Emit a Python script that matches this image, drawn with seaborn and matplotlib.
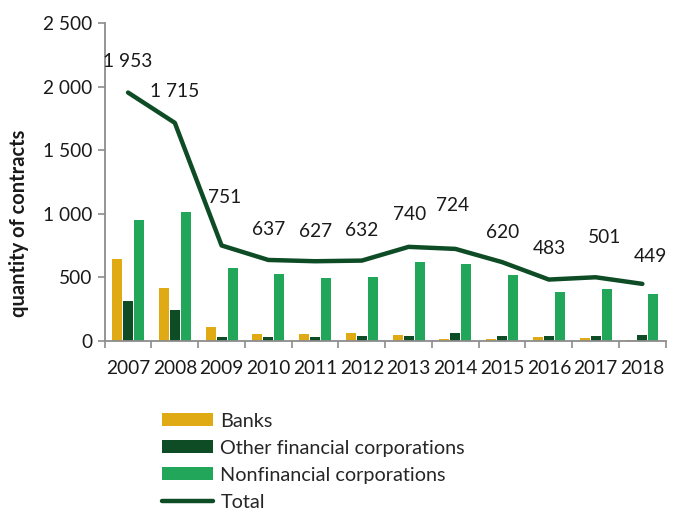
import matplotlib
matplotlib.use("Agg")
import matplotlib.pyplot as plt
from matplotlib.patches import Patch
from matplotlib.lines import Line2D
from matplotlib.ticker import FuncFormatter, MultipleLocator, FixedLocator
import numpy as np
import pandas as pd
import seaborn as sns

years = ["2007", "2008", "2009", "2010", "2011", "2012",
         "2013", "2014", "2015", "2016", "2017", "2018"]
banks = [645, 414, 110, 53, 55, 60, 47, 13, 16, 29, 24, 10]
other_financial = [312, 241, 29, 29, 29, 42, 37, 63, 42, 39, 37, 45]
nonfinancial = [951, 1014, 572, 529, 498, 500, 621, 605, 521, 383, 406, 370]
total = [1953, 1715, 751, 637, 627, 632, 740, 724, 620, 483, 501, 449]

series_names = ["Banks", "Other financial corporations", "Nonfinancial corporations"]
series_colors = ["#DFAA14", "#0E4C26", "#21A65A"]
line_color = "#0E4C26"

# label offsets (dx, dy) in pixels relative to each point of the total line
label_offsets = [(0, 31), (0, 31), (3, 48), (0, 30), (0, 30), (0, 30),
                 (1, 32), (-3, 43), (1, 30), (1, 31), (9, 40), (8, 27)]

sns.set_theme(style="white")
plt.rcParams["font.family"] = ["Lato", "DejaVu Sans"]

df = pd.DataFrame({
    "year": years * 3,
    "series": sum([[s] * len(years) for s in series_names], []),
    "value": banks + other_financial + nonfinancial,
})

fig = plt.figure(figsize=(6.78, 5.14), dpi=100)
ax = fig.add_axes([0.1544, 0.3366, 0.8275, 0.6187])

sns.barplot(data=df, x="year", y="value", hue="series", order=years,
            hue_order=series_names, palette=series_colors, width=0.707,
            gap=0.09, saturation=1, ax=ax, legend=False, linewidth=0)

pos = np.arange(len(years))
sns.lineplot(x=pos, y=total, color=line_color, linewidth=3.2, ax=ax,
             legend=False, solid_joinstyle="round", solid_capstyle="round")

def spaced(v, _=None):
    return f"{int(v):,}".replace(",", " ")

for x, v, (dx, dy) in zip(pos, total, label_offsets):
    ax.annotate(spaced(v), (x, v), xytext=(dx * 0.72, dy * 0.72),
                textcoords="offset points", ha="center", va="center",
                fontsize=13.8, color="#1a1a1a")

ax.set_xlim(-0.5, len(years) - 0.5)
ax.set_ylim(0, 2500)
ax.yaxis.set_major_locator(MultipleLocator(500))
ax.yaxis.set_major_formatter(FuncFormatter(spaced))

ax.set_xticks(pos)
ax.set_xticklabels(years)
ax.xaxis.set_minor_locator(FixedLocator(np.arange(-0.5, len(years), 1.0)))
ax.tick_params(axis="x", which="major", length=0, pad=14, labelsize=13.8,
               labelcolor="#1a1a1a")
ax.tick_params(axis="x", which="minor", length=5, width=1.2, color="#8c8c8c",
               direction="out", bottom=True)
ax.tick_params(axis="y", which="major", length=5, width=1.2, color="#8c8c8c",
               direction="out", left=True, labelsize=13.8, labelcolor="#1a1a1a",
               pad=4)

for side in ["top", "right"]:
    ax.spines[side].set_visible(False)
for side in ["left", "bottom"]:
    ax.spines[side].set_color("#8c8c8c")
    ax.spines[side].set_linewidth(1.3)

ax.set_xlabel("")
ax.set_ylabel("quantity of contracts", fontsize=14.5, fontweight="bold",
              color="#1a1a1a")
ax.yaxis.set_label_coords(-0.135, 0.37)

handles = [Patch(facecolor=c, edgecolor="none") for c in series_colors]
handles.append(Line2D([0], [0], color=line_color, linewidth=3.2,
                      solid_capstyle="round"))
fig.legend(handles, series_names + ["Total"], loc="upper left",
           bbox_to_anchor=(0.2385, 0.197), frameon=False, fontsize=14.3,
           handlelength=2.6, handleheight=0.6, handletextpad=0.35,
           labelspacing=0.5, borderpad=0, borderaxespad=0)

fig.savefig("out.png", dpi=100)
